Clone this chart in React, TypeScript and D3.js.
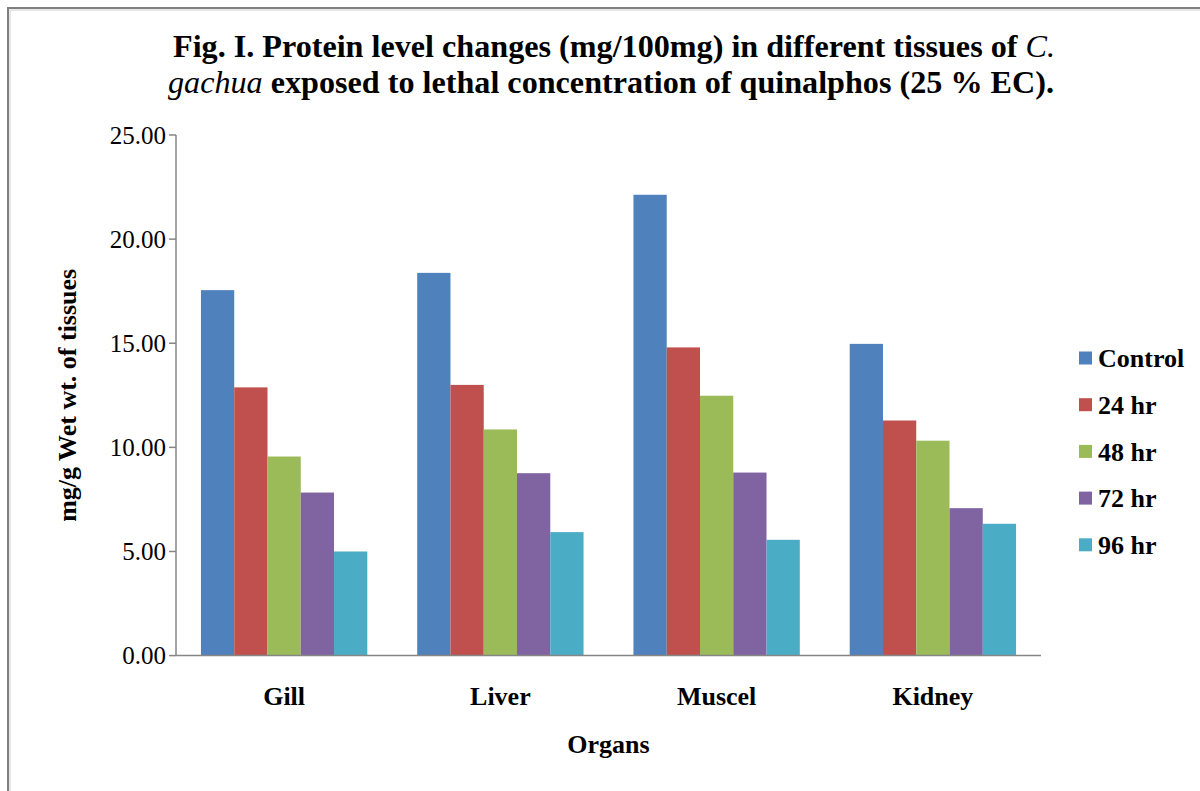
import * as d3 from "d3";

const organs = ["Gill", "Liver", "Muscel", "Kidney"];
const seriesNames = ["Control", "24 hr", "48 hr", "72 hr", "96 hr"];
const colors = ["#4F81BD", "#C0504D", "#9BBB59", "#8064A2", "#4BACC6"];

// values per series, in organ order
const control = [17.55, 18.38, 22.13, 14.97];
const hr24 = [12.88, 13.0, 14.8, 11.29];
const hr48 = [9.56, 10.86, 12.48, 10.32];
const hr72 = [7.83, 8.76, 8.79, 7.08];
const hr96 = [5.0, 5.93, 5.56, 6.33];
const seriesValues = [control, hr24, hr48, hr72, hr96];

const yTicks = [0, 5, 10, 15, 20, 25];

const serif = "'Liberation Serif', 'Times New Roman', serif";

export default function App() {
  const width = 1200;
  const height = 791;
  const plot = { left: 176, right: 1041, top: 135, bottom: 655.6 };

  const x0 = d3.scaleBand<string>().domain(organs).range([plot.left, plot.right]);
  // Excel-style gap width 150%: 5 bars + 1.5 bar gap in each band
  const barW = x0.bandwidth() / 6.5;
  const x1 = d3
    .scaleBand<string>()
    .domain(seriesNames)
    .range([0.75 * barW, 5.75 * barW]);

  const y = d3.scaleLinear().domain([0, 25]).range([plot.bottom, plot.top]);

  const axisColor = "#868686";

  return (
    <div style={{ position: "absolute", left: 0, top: 0 }}>
      <svg width={width} height={height} style={{ display: "block", background: "#fff" }}>
        {/* outer frame */}
        <rect x={8} y={8} width={1250} height={850} fill="none" stroke="#7f7f7f" strokeWidth={2} />
        <rect x={10} y={10} width={1250} height={850} fill="none" stroke="#d0d0d0" strokeWidth={1} />

        {/* title */}
        <g fontFamily={serif} fontWeight="bold" fontSize={31} fill="#000">
          <text x={173} y={57} textLength={882} lengthAdjust="spacingAndGlyphs">
            Fig. I. Protein level changes (mg/100mg) in different tissues of <tspan fontStyle="italic" fontWeight="normal">C.</tspan>
          </text>
          <text x={168} y={93} textLength={886} lengthAdjust="spacingAndGlyphs">
            <tspan fontStyle="italic" fontWeight="normal">gachua</tspan> exposed to lethal concentration of quinalphos (25 % EC).
          </text>
        </g>

        {/* bars */}
        {seriesValues.map((vals, si) =>
          vals.map((v, oi) => (
            <rect
              key={`${si}-${oi}`}
              x={(x0(organs[oi]) ?? 0) + (x1(seriesNames[si]) ?? 0)}
              y={y(v)}
              width={x1.bandwidth()}
              height={plot.bottom - y(v)}
              fill={colors[si]}
            />
          ))
        )}

        {/* y axis */}
        <line x1={plot.left} x2={plot.left} y1={plot.top} y2={plot.bottom} stroke={axisColor} strokeWidth={1.5} />
        {yTicks.map((t) => (
          <g key={t}>
            <line x1={plot.left - 7} x2={plot.left} y1={y(t)} y2={y(t)} stroke={axisColor} strokeWidth={1.5} />
            <text
              x={166}
              y={y(t)}
              dy="0.35em"
              textAnchor="end"
              fontFamily={serif}
              fontSize={25}
              fill="#000"
            >
              {d3.format(".2f")(t)}
            </text>
          </g>
        ))}

        {/* x axis */}
        <line x1={plot.left} x2={plot.right} y1={plot.bottom} y2={plot.bottom} stroke={axisColor} strokeWidth={1.5} />
        {organs.map((o) => (
          <text
            key={o}
            x={(x0(o) ?? 0) + x0.bandwidth() / 2}
            y={705}
            textAnchor="middle"
            fontFamily={serif}
            fontWeight="bold"
            fontSize={26}
            fill="#000"
          >
            {o}
          </text>
        ))}

        {/* axis titles */}
        <text
          x={(plot.left + plot.right) / 2}
          y={753}
          textAnchor="middle"
          fontFamily={serif}
          fontWeight="bold"
          fontSize={26}
          fill="#000"
        >
          Organs
        </text>
        <text
          transform={`translate(76,${(plot.top + plot.bottom) / 2}) rotate(-90)`}
          textAnchor="middle"
          fontFamily={serif}
          fontWeight="bold"
          fontSize={26}
          fill="#000"
        >
          mg/g Wet wt. of tissues
        </text>

        {/* legend */}
        {seriesNames.map((s, i) => {
          const cy = 358 + i * 46.7;
          return (
            <g key={s}>
              <rect x={1079} y={cy - 6.5} width={13} height={13} fill={colors[i]} />
              <text
                x={1098}
                y={cy}
                dy="0.35em"
                fontFamily={serif}
                fontWeight="bold"
                fontSize={26}
                fill="#000"
              >
                {s}
              </text>
            </g>
          );
        })}
      </svg>
    </div>
  );
}
